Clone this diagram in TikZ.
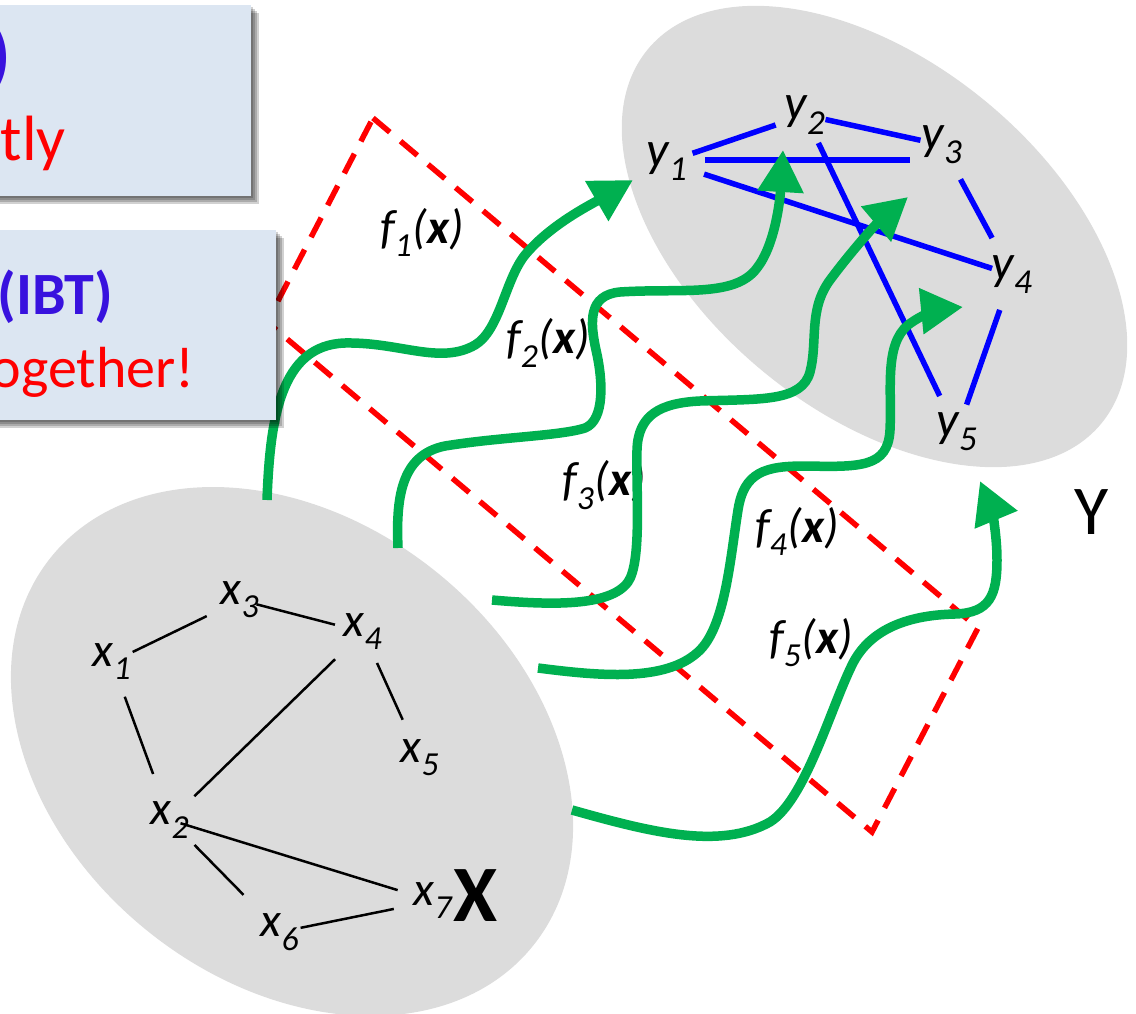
\documentclass[tikz,border=0pt]{standalone}
\usepackage{fontspec}
\setmainfont{Carlito}
\usetikzlibrary{arrows.meta,calc}
\definecolor{boxfill}{RGB}{220,230,242}
\definecolor{ibtblue}{RGB}{56,18,222}
\definecolor{grn}{RGB}{0,176,80}
\definecolor{ellgray}{RGB}{220,220,220}
\definecolor{eblue}{RGB}{0,0,255}
\tikzset{
  xlab/.style={font=\fontsize{48}{48}\selectfont\itshape, inner sep=0pt},
  ylab/.style={font=\fontsize{50}{50}\selectfont\itshape, inner sep=0pt},
  flab/.style={font=\fontsize{48}{48}\selectfont\itshape, inner sep=0pt},
  xedge/.style={line width=2.5pt, black},
  yedge/.style={line width=5.5pt, eblue},
  garrow/.style={line width=9.5pt, grn, -{Triangle[length=42pt,width=44pt]}},
  reddash/.style={red, line width=5.5pt, dash pattern=on 22pt off 14pt},
  boxshadow/.style={black, opacity=0.18},
  boxbody/.style={fill=boxfill},
}
\begin{document}
\begin{tikzpicture}[x=1pt,y=-1pt]
\useasboundingbox (0,0) rectangle (1136,1014);
% ellipses
\fill[ellgray, rotate around={-38.9:(292,751.5)}] (292,751.5) ellipse [x radius=309.6pt, y radius=230.4pt];
\fill[ellgray, rotate around={-39.5:(874.5,236.5)}] (874.5,236.5) ellipse [x radius=294pt, y radius=175pt];

% X graph
\node[xlab] (x1) at (112,662) {x\textsubscript{1}};
\node[xlab] (x2) at (170,820) {x\textsubscript{2}};
\node[xlab] (x3) at (240,600) {x\textsubscript{3}};
\node[xlab] (x4) at (363,632) {x\textsubscript{4}};
\node[xlab] (x5) at (420,758) {x\textsubscript{5}};
\node[xlab] (x6) at (280,932) {x\textsubscript{6}};
\node[xlab] (x7) at (433,901) {x\textsubscript{7}};
\node[font=\fontsize{80}{80}\selectfont\bfseries, inner sep=0pt] (bigX) at (476,896) {X};
\draw[xedge, shorten <=23pt, shorten >=37pt] (x1.center) -- (x3.center);
\draw[xedge, shorten <=17pt, shorten >=29pt] (x3.center) -- (x4.center);
\draw[xedge, shorten <=37pt, shorten >=49pt] (x1.center) -- (x2.center);
\draw[xedge, shorten <=34pt, shorten >=39pt] (x2.center) -- (x4.center);
\draw[xedge, shorten <=34pt, shorten >=42pt] (x4.center) -- (x5.center);
\draw[xedge, shorten <=11pt, shorten >=37pt] (x2.center) -- (x7.center);
\draw[xedge, shorten <=35pt, shorten >=52pt] (x2.center) -- (x6.center);
\draw[xedge, shorten <=21pt, shorten >=40pt] (x6.center) -- (x7.center);

% Y graph
\node[ylab] (y1) at (667,162) {y\textsubscript{1}};
\node[ylab] (y2) at (805,115) {y\textsubscript{2}};
\node[ylab] (y3) at (942,145) {y\textsubscript{3}};
\node[ylab] (y4) at (1012,275) {y\textsubscript{4}};
\node[ylab] (y5) at (957,432) {y\textsubscript{5}};
\node[font=\fontsize{70}{70}\selectfont, inner sep=0pt] (bigY) at (1092,512) {Y};
\draw[yedge, shorten <=27pt, shorten >=31pt] (y1.center) -- (y2.center);
\draw[yedge, shorten <=21pt, shorten >=22pt] (y2.center) -- (y3.center);
\draw[yedge] ($(y1.center)+(38,-2)$) -- ($(y1.center -| y3.center)+(-32,-2)$);
\draw[yedge, shorten <=39pt, shorten >=21pt] (y1.center) -- (y4.center);
\draw[yedge, shorten <=31pt, shorten >=40pt] (y2.center) -- (y5.center);
\draw[yedge, shorten <=39pt, shorten >=42pt] (y3.center) -- (y4.center);
\draw[yedge, shorten <=37pt, shorten >=29pt] (y4.center) -- (y5.center);

% function labels
\node[flab] (f1) at (422,232) {f\textsubscript{1}(\textbf{x})};
\node[flab] (f2) at (548,343) {f\textsubscript{2}(\textbf{x})};
\node[flab] (f3) at (604,485) {f\textsubscript{3}(\textbf{x})};
\node[flab] (f4) at (797,531) {f\textsubscript{4}(\textbf{x})};
\node[flab] (f5) at (811,643) {f\textsubscript{5}(\textbf{x})};

% red dashed region
\coordinate (rA) at (373,118);
\coordinate (rB) at (978,628);
\coordinate (rC) at (872,832);
\coordinate (rD) at (267,322);
\draw[reddash] (rA) -- (rB) -- (rC) -- (rD) -- cycle;

% green mapping arrows
\coordinate (sA) at (267,500);  \coordinate (eA) at (633,180);
\coordinate (sB) at (398,548);  \coordinate (eB) at (783,150);
\coordinate (sC) at (492,600);  \coordinate (eC) at (908,197);
\coordinate (sD) at (538,668);  \coordinate (eD) at (963,307);
\coordinate (sE) at (572,810);  \coordinate (eE) at (980,481);
\draw[garrow] (sA) .. controls (270,420) and (280,345) .. (345,343)
  .. controls (400,342) and (440,365) .. (475,345)
  .. controls (500,330) and (505,280) .. (525,255)
  .. controls (550,225) and (590,205) .. (eA);
\draw[garrow] (sB) .. controls (396,500) and (400,455) .. (445,446)
  .. controls (500,437) and (560,436) .. (585,428)
  .. controls (605,420) and (603,380) .. (596,350)
  .. controls (590,322) and (588,295) .. (620,292)
  .. controls (680,288) and (735,298) .. (757,268)
  .. controls (775,245) and (780,200) .. (eB);
\draw[garrow] (sC) .. controls (550,605) and (610,607) .. (628,582)
  .. controls (642,562) and (636,490) .. (637,450)
  .. controls (638,415) and (660,403) .. (700,401)
  .. controls (760,399) and (802,402) .. (810,372)
  .. controls (818,342) and (808,310) .. (830,280)
  .. controls (850,253) and (875,225) .. (eC);
\draw[garrow] (sD) .. controls (600,676) and (665,682) .. (698,652)
  .. controls (725,628) and (730,560) .. (738,510)
  .. controls (744,472) and (765,466) .. (805,466)
  .. controls (860,467) and (888,468) .. (890,430)
  .. controls (892,390) and (884,345) .. (908,325)
  .. controls (925,312) and (943,309) .. (eD);
\draw[garrow] (sE) .. controls (650,832) and (720,850) .. (770,822)
  .. controls (805,800) and (830,710) .. (852,665)
  .. controls (870,628) and (910,615) .. (955,614)
  .. controls (990,613) and (997,595) .. (997,560)
  .. controls (997,530) and (990,505) .. (eE);

% text boxes (cut at left edge)
\foreach \o in {2,4,6,8} {
  \fill[boxshadow] (-20,5+\o) rectangle (251+\o,196+\o);
  \fill[boxshadow] (-20,230+\o) rectangle (276+\o,420+\o);
}
\fill[boxbody] (-20,5) rectangle (251,196);
\fill[boxbody] (-20,230) rectangle (276,420);
\node[anchor=base east, text=ibtblue, font=\fontsize{72}{72}\selectfont\bfseries, inner sep=0pt] (t1a) at (11,80) {)};
\node[anchor=base east, text=red, font=\fontsize{64}{64}\selectfont, inner sep=0pt] (t1b) at (66,161) {tly};
\node[anchor=base east, text=ibtblue, font=\fontsize{60}{60}\selectfont\bfseries, inner sep=0pt] (t2a) at (113,314) {(IBT)};
\node[anchor=base east, text=red, font=\fontsize{58}{58}\selectfont, inner sep=0pt] (t2b) at (195,387) {ogether!};
\end{tikzpicture}
\end{document}
